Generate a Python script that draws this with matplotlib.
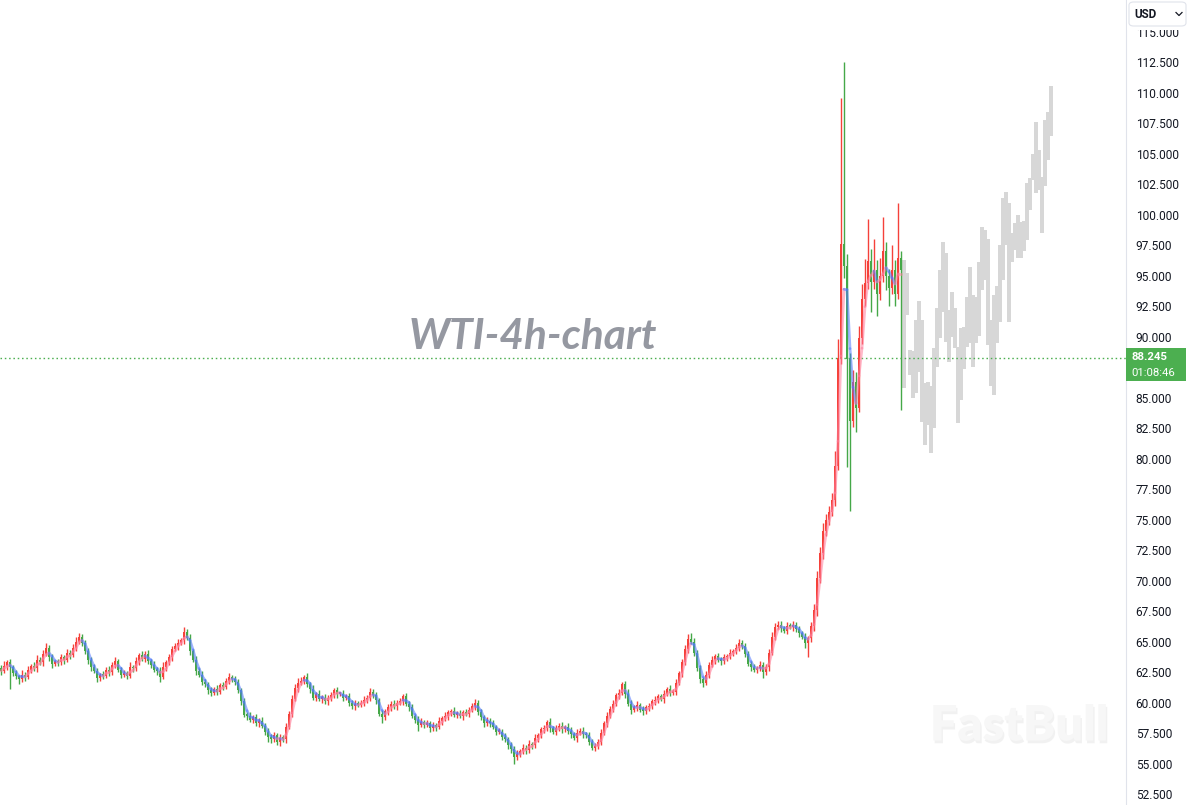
import numpy as np
import pandas as pd
import matplotlib
matplotlib.use("Agg")
import matplotlib.pyplot as plt
from matplotlib.patches import FancyBboxPatch, Rectangle
from matplotlib.collections import LineCollection
from matplotlib.lines import Line2D
import matplotlib.patheffects as pe

# ---------------- data ----------------
closes = [
    62.6, 63.0, 63.3, 62.9, 62.4, 62.2, 61.9, 62.3, 62.1, 62.7,
    63.0, 62.8, 63.5, 63.3, 64.0, 64.5, 63.7, 63.2, 63.4, 63.3,
    63.7, 63.5, 64.1, 63.9, 64.5, 65.0, 65.4, 64.9, 64.2, 63.5,
    62.9, 62.6, 62.0, 62.3, 62.2, 62.7, 62.5, 63.1, 63.4, 62.7,
    62.3, 62.4, 62.2, 62.9, 62.8, 63.4, 63.9, 63.6, 64.0, 63.4,
    63.1, 62.7, 62.6, 62.1, 62.9, 63.3, 63.7, 64.4, 64.6, 64.9,
    65.1, 65.8, 65.3, 64.2, 63.5, 62.6, 62.3, 61.7, 61.5, 61.0,
    60.8, 61.1, 60.9, 61.4, 61.3, 61.8, 62.1, 61.9, 61.7, 61.0,
    60.1, 59.0, 58.9, 58.6, 58.8, 58.3, 58.5, 58.1, 57.6, 57.2,
    57.0, 57.3, 56.8, 57.1, 57.0, 58.0, 59.1, 60.3, 61.2, 61.6,
    61.8, 62.1, 61.5, 61.1, 60.4, 60.7, 60.3, 60.4, 60.1, 60.4,
    60.6, 61.0, 60.7, 60.7, 60.4, 60.5, 60.0, 59.7, 59.9, 59.8,
    60.0, 60.2, 60.4, 60.9, 60.6, 60.2, 59.1, 58.8, 59.3, 59.6,
    59.9, 59.7, 60.0, 60.1, 60.5, 59.9, 59.6, 58.9, 58.6, 58.2,
    58.4, 58.2, 58.3, 57.9, 58.1, 58.0, 58.5, 58.7, 58.9, 59.2,
    59.3, 59.0, 59.1, 58.9, 59.2, 59.1, 59.4, 59.7, 60.0, 59.2,
    58.8, 58.3, 58.5, 58.3, 58.0, 57.6, 57.6, 57.2, 57.0, 56.5,
    56.2, 55.5, 55.8, 56.0, 56.3, 56.1, 56.6, 56.5, 57.1, 57.3,
    57.8, 57.9, 58.4, 57.9, 57.6, 57.9, 58.1, 57.8, 58.0, 57.7,
    57.4, 57.1, 57.5, 57.7, 57.4, 57.3, 56.8, 56.3, 56.4, 56.8,
    57.5, 58.3, 58.9, 59.5, 59.9, 60.6, 60.8, 61.5, 60.7, 59.9,
    59.4, 59.6, 59.8, 59.4, 59.3, 59.6, 59.7, 60.1, 60.2, 60.5,
    60.3, 60.7, 61.1, 60.8, 60.9, 61.6, 62.4, 63.3, 64.4, 65.2,
    65.0, 64.1, 62.8, 61.9, 61.6, 62.3, 63.1, 63.5, 63.8, 63.5,
    63.4, 63.7, 63.8, 64.1, 64.2, 64.5, 64.9, 64.6, 64.0, 63.2,
    62.9, 62.7, 62.8, 63.1, 62.5, 62.9, 64.1, 65.4, 66.2, 66.4,
    66.1, 65.9, 66.3, 66.2, 66.4, 66.0, 65.7, 65.4, 64.9, 65.3,
    66.3, 67.6, 70.2, 72.3, 74.1, 75.0, 75.6, 76.6, 79.4, 88.3,
    97.6, 95.8, 88.2, 83.1, 86.3, 84.2, 89.9, 93.1, 94.4, 96.2,
    94.5, 95.5, 93.5, 95.0, 97.0, 95.0, 94.0, 95.5, 93.5, 96.5,
    95.5,
]
first_open = 62.8

wick_up = [
    .3, .4, .2, .3, .2, .3, .1, .4, .2, .3,
    .2, .3, .4, .2, .3, .4, .2, .3, .1, .2,
    .3, .2, .3, .2, .3, .4, .3, .2, .2, .3,
    .2, .3, .2, .1, .3, .2, .3, .2, .3, .2,
    .2, .3, .2, .4, .2, .3, .2, .3, .2, .3,
    .2, .3, .2, .3, .4, .2, .3, .2, .3, .3,
    .2, .4, .2, .3, .2, .3, .2, .3, .2, .2,
    .3, .2, .3, .2, .3, .2, .3, .2, .3, .2,
    .2, .3, .2, .3, .2, .3, .2, .3, .2, .3,
    .2, .3, .2, .3, .2, .3, .2, .3, .3, .4,
    .3, .2, .3, .2, .3, .2, .3, .2, .3, .2,
    .3, .2, .3, .2, .3, .2, .3, .2, .3, .2,
    .2, .3, .2, .3, .2, .3, .2, .3, .2, .3,
    .2, .3, .2, .3, .2, .3, .2, .3, .2, .3,
    .3, .2, .3, .2, .3, .2, .3, .2, .3, .2,
    .2, .3, .2, .3, .2, .3, .2, .3, .3, .2,
    .3, .2, .3, .2, .3, .2, .3, .2, .3, .2,
    .3, .2, .3, .2, .3, .2, .3, .2, .3, .2,
    .2, .3, .2, .3, .2, .3, .2, .3, .2, .3,
    .3, .2, .3, .2, .3, .2, .3, .2, .3, .2,
    .3, .2, .3, .2, .3, .2, .3, .2, .3, .4,
    .3, .2, .3, .2, .3, .2, .3, .2, .3, .2,
    .2, .3, .2, .3, .2, .3, .2, .3, .3, .4,
    .5, .3, .2, .3, .2, .3, .2, .3, .2, .3,
    .2, .3, .2, .3, .2, .3, .3, .2, .3, .2,
    .2, .3, .2, .3, .2, .3, .3, .4, .3, .3,
    .3, .2, .3, .2, .3, .2, .3, .2, .3, .2,
    .3, .5, .6, .5, .6, .5, .5, .6, 1.2, 1.5,
    12.0, 14.9, 1.0, .5, 1.0, .8, 1.0, 1.2, 2.0, 3.5,
    1.0, 2.5, .8, 1.5, 2.8, .8, .6, 2.0, .8, 4.5,
    .5,
]

wick_dn = [
    .3, .2, .3, 1.8, .2, .3, .4, .2, .3, .2,
    .3, .2, .3, .2, .3, .2, .3, .4, .2, .3,
    .2, .3, .2, .3, .2, .3, .2, .3, .2, .3,
    .3, .2, .3, .2, .3, .2, .3, .2, .3, .2,
    .3, .2, .3, .2, .3, .2, .3, .2, .3, .2,
    .3, .2, .3, .4, .2, .3, .2, .3, .2, .3,
    .2, .3, .2, .3, .2, .3, .2, .3, .2, .3,
    .3, .2, .3, .2, .3, .2, .3, .2, .3, .2,
    .3, .2, .3, .2, .3, .2, .3, .2, .3, .4,
    .3, .2, .3, .4, .2, .3, .2, .3, .2, .3,
    .2, .3, .2, .3, .2, .3, .2, .3, .2, .3,
    .3, .2, .3, .2, .3, .2, .3, .2, .3, .2,
    .2, .3, .2, .3, .2, .3, .2, .5, .2, .3,
    .3, .2, .3, .2, .3, .2, .3, .2, .3, .5,
    .2, .3, .2, .3, .2, .3, .2, .3, .2, .3,
    .3, .2, .3, .2, .3, .2, .3, .2, .3, .2,
    .2, .3, .2, .3, .2, .3, .2, .3, .2, .3,
    .3, .5, .2, .3, .2, .3, .2, .3, .2, .3,
    .2, .3, .2, .3, .2, .3, .2, .3, .2, .3,
    .3, .2, .3, .2, .3, .2, .3, .2, .3, .2,
    .3, .2, .3, .2, .3, .2, .3, .2, .3, .2,
    .3, .2, .3, .2, .3, .2, .3, .2, .3, .2,
    .2, .3, .2, .3, .2, .3, .2, .3, .2, .3,
    .2, .3, .2, .3, .3, .2, .3, .2, .3, .2,
    .3, .2, .3, .2, .3, .2, .3, .2, .3, .2,
    .3, .2, .3, .2, .5, .2, .3, .2, .3, .2,
    .3, .2, .3, .2, .3, .2, .3, .2, .4, 1.2,
    .3, .4, .5, .4, .5, .4, .4, .3, .5, .3,
    .5, 1.0, 8.9, 7.4, .5, 2.0, .4, .5, .6, .5,
    2.5, .6, 1.8, .5, .5, 1.2, 1.5, .5, 1.0, .4,
    11.5,
]

proj_high = [96.3, 95.2, 88.9, 88.8, 91.4, 92.9, 91.4, 86.2, 86.3, 86.0,
             89.1, 92.4, 95.5, 97.8, 96.9, 92.2, 93.7, 92.4, 89.2, 90.7,
             90.8, 93.3, 95.7, 93.4, 93.3, 96.1, 99.0, 98.8, 98.0, 91.4,
             93.4, 94.2, 97.5, 101.4, 101.9, 101.0, 98.5, 99.3, 100.0, 99.4,
             99.5, 102.6, 103.0, 105.0, 107.6, 105.3, 103.1, 107.8, 108.4, 110.6]
proj_low = [85.8, 91.8, 86.9, 85.0, 85.4, 87.1, 83.0, 81.1, 82.8, 80.5,
            82.5, 87.5, 89.9, 92.0, 89.6, 87.9, 90.0, 89.1, 82.9, 84.8,
            87.4, 89.2, 89.5, 87.5, 89.5, 90.1, 93.8, 94.7, 89.3, 86.0,
            85.2, 89.5, 91.2, 94.7, 97.5, 91.2, 96.1, 97.1, 96.5, 96.5,
            97.0, 97.9, 100.4, 102.9, 101.8, 102.0, 98.5, 102.4, 104.5, 106.5]

last_price = 88.245
countdown = "01:08:46"
y_ticks = [52.5 + 2.5 * k for k in range(26)]
title_text = "WTI-4h-chart"
currency = "USD"

# ---------------- derived OHLC ----------------
closes = np.array(closes)
opens = np.concatenate([[first_open], closes[:-1]])
highs = np.maximum(opens, closes) + np.array(wick_up)
lows = np.minimum(opens, closes) - np.array(wick_dn)
n = len(closes)
x = np.arange(n)
xp = np.arange(n, n + len(proj_high))

W, H = 1188, 805
fig = plt.figure(figsize=(W / 100, H / 100), dpi=100)
fig.patch.set_facecolor("white")
plot_w = 1126
ax = fig.add_axes([0, 0, plot_w / W, 1])
ax.set_facecolor("white")

ax.set_xlim(-1 / 3, (plot_w - 1) / 3)
ax.set_ylim(52.5 - 11 / 12.19, 115 + 32 / 12.19)

RED = "#f5413a"
GREEN = "#45a848"

# projection bars
ax.bar(xp, np.array(proj_high) - np.array(proj_low), bottom=proj_low,
       width=1.2, color="#d7d7d7", linewidth=0, zorder=1)

# last price dotted line
ax.axhline(last_price, color="#4caf50", lw=1.0, ls=(0, (1.1, 2.0)), zorder=1.5)

# candles (red = up, green = down)
up = closes >= opens
cols = np.where(up, RED, GREEN)
ax.vlines(x, lows, highs, colors=cols, lw=1.0, zorder=2)
body_lo = np.minimum(opens, closes)
body_h = np.maximum(np.abs(closes - opens), 0.14)
ax.bar(x, body_h, bottom=body_lo, width=0.85, color=cols, linewidth=0, zorder=2.1)

# moving average line coloured by slope
ma = pd.Series(closes).rolling(3, min_periods=1).mean().values
pts = np.column_stack([x, ma])
segs = np.stack([pts[:-1], pts[1:]], axis=1)
seg_cols = [(1.0, 0.50, 0.62, 0.55) if d >= 0 else (0.32, 0.47, 1.0, 0.55)
            for d in np.diff(ma)]
ax.add_collection(LineCollection(segs, colors=seg_cols, linewidths=2.0,
                                 zorder=3, capstyle="round"))

# axes styling
for s in ["top", "left", "bottom"]:
    ax.spines[s].set_visible(False)
ax.spines["right"].set_color("#e0e3eb")
ax.spines["right"].set_linewidth(0.8)
ax.xaxis.set_visible(False)
ax.yaxis.tick_right()
ax.set_yticks(y_ticks)
# the 87.500 label sits behind the live-price tag in the reference
ax.set_yticklabels(["" if abs(v - 87.5) < 1e-9 else f"{v:.3f}" for v in y_ticks],
                   fontfamily="Roboto", fontsize=8.6, color="#131722")
ax.tick_params(axis="y", length=0, pad=7)

# watermark title
ax.text(533 / plot_w, 1 - 337 / H, title_text, transform=ax.transAxes,
        ha="center", va="center", fontfamily="Lato", fontweight="bold",
        fontstyle="italic", fontsize=30.5, color="#9598a1", zorder=0.5)

# FastBull watermark
fig.text(1019 / W, 1 - 726 / H, "FastBull", ha="center", va="center",
         fontfamily="Lato", fontweight="heavy", fontsize=35, color="#f7f7f7",
         zorder=0.2,
         path_effects=[pe.withSimplePatchShadow(offset=(1, -2), shadow_rgbFace="#e9e9e9", alpha=0.6)])

# price label box
fig.add_artist(Rectangle((plot_w / W, 1 - 381 / H), 60 / W, 33 / H,
                         transform=fig.transFigure, facecolor="#4caf50",
                         edgecolor="none", zorder=10))
fig.text(1131 / W, 1 - 357 / H, f"{last_price:.3f}", ha="left", va="center",
         fontfamily="Roboto", fontweight="bold", fontsize=8.2, color="white", zorder=11)
fig.text(1131 / W, 1 - 373 / H, countdown, ha="left", va="center",
         fontfamily="Roboto", fontsize=8.2, color="white", zorder=11)

# currency selector box (covers the top of the 115.000 label)
fig.add_artist(Rectangle((1127 / W, 1 - 30.5 / H), 61 / W, 30.5 / H,
                         transform=fig.transFigure, facecolor="white",
                         edgecolor="none", zorder=9))
fig.add_artist(FancyBboxPatch((1129 / W, 1 - 26 / H), 57 / W, 24 / H,
                              boxstyle="round,pad=0,rounding_size=0.004",
                              transform=fig.transFigure, facecolor="white",
                              edgecolor="#e0e3eb", lw=0.8, zorder=10))
fig.text(1134 / W, 1 - 14 / H, currency, ha="left", va="center",
         fontfamily="Roboto", fontweight="bold", fontsize=8.4, color="#131722", zorder=11)
fig.add_artist(Line2D([1176 / W, 1179 / W, 1182 / W],
                      [1 - 12.5 / H, 1 - 15.5 / H, 1 - 12.5 / H],
                      transform=fig.transFigure, color="#131722", lw=0.9, zorder=11))

fig.savefig("out.png", dpi=100, facecolor="white")
